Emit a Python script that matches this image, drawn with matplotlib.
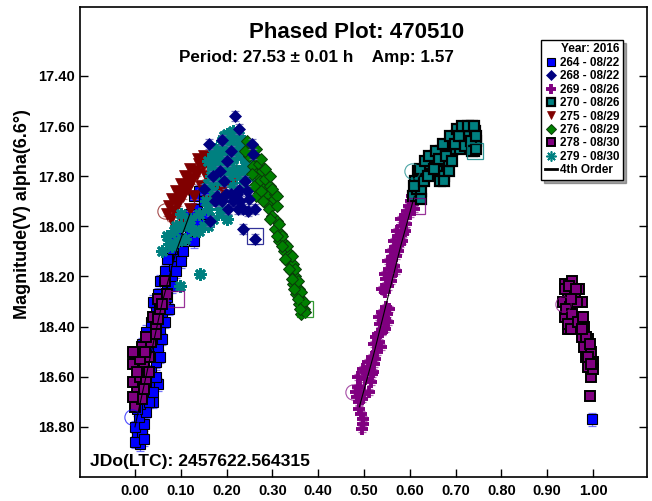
import numpy as np
import matplotlib.pyplot as plt
import matplotlib as mpl

mpl.rcParams['font.family'] = ['Liberation Sans', 'DejaVu Sans']
mpl.rcParams['font.weight'] = 'bold'

# session 264 - 08/22
ph_264 = [0.010, 0.005, 0.015, 0.000, 0.020, 0.008, 0.025, 0.012, 0.040, 0.050, 0.018, 0.030,
          0.010, 0.035, 0.020, 0.045, 0.000, 0.030, 0.050, 0.015, 0.040, 0.025, 0.055, 0.035,
          0.060, 0.045, 0.040, 0.065, 0.050, 0.070, 0.055, 0.080, 0.065, 0.085, 0.070, 0.095,
          0.080, 0.100, 0.090, 0.115, 0.110, 0.125, 0.135, 0.150, 0.140, 0.170,
          0.000, 0.020, 0.005, 0.030, 0.040, 0.045, 0.055, 0.060, 0.065, 0.075, 0.070, 0.080,
          0.090, 0.100, 0.105, 0.120, 0.130, 0.140, 0.155, 0.160, 0.120, 0.130, 0.998]
mag_264 = [18.87, 18.84, 18.82, 18.80, 18.79, 18.76, 18.74, 18.71, 18.70, 18.63, 18.67, 18.64,
           18.60, 18.58, 18.55, 18.54, 18.52, 18.50, 18.48, 18.47, 18.45, 18.42, 18.41, 18.38,
           18.36, 18.34, 18.30, 18.31, 18.27, 18.25, 18.22, 18.21, 18.18, 18.16, 18.13, 18.12,
           18.09, 18.08, 18.04, 18.05, 18.00, 17.98, 17.93, 17.90, 17.86, 17.88,
           18.86, 18.85, 18.73, 18.70, 18.66, 18.60, 18.52, 18.45, 18.38, 18.33, 18.28, 18.24,
           18.18, 18.14, 18.10, 18.02, 18.06, 17.98, 17.95, 17.88, 17.95, 17.88, 18.77]

# session 268 - 08/22
ph_268 = [0.218, 0.227, 0.162, 0.190, 0.255, 0.258, 0.203, 0.164, 0.236, 0.247, 0.262, 0.236,
          0.262, 0.223, 0.199, 0.227, 0.249, 0.170, 0.185, 0.210, 0.200, 0.240, 0.215, 0.230,
          0.150, 0.180, 0.195, 0.175, 0.210, 0.245, 0.225, 0.190]
mag_268 = [17.56, 17.61, 17.67, 17.655, 17.67, 17.71, 17.93, 17.98, 17.93, 17.94, 17.93, 18.01,
           18.05, 17.87, 17.87, 17.855, 17.89, 17.80, 17.78, 17.70, 17.74, 17.82, 17.90, 17.90,
           17.85, 17.88, 17.82, 17.90, 17.87, 17.86, 17.93, 17.90]

# session 269 - 08/26
ph_269 = [0.496, 0.498, 0.490, 0.485, 0.500, 0.492, 0.510, 0.488, 0.503, 0.515, 0.498, 0.512,
          0.523, 0.518, 0.528, 0.522, 0.533, 0.530, 0.540, 0.535, 0.545, 0.540, 0.550, 0.548,
          0.545, 0.552, 0.548, 0.558, 0.555, 0.565, 0.562, 0.570, 0.568, 0.578, 0.575, 0.585,
          0.582, 0.592, 0.590, 0.600, 0.598, 0.608, 0.605, 0.612,
          0.487, 0.495, 0.505, 0.517, 0.482, 0.508, 0.520, 0.525, 0.537, 0.527, 0.545, 0.533,
          0.552, 0.555, 0.540, 0.545, 0.560, 0.552, 0.570, 0.560, 0.575, 0.565, 0.583, 0.572,
          0.590, 0.580, 0.595, 0.602, 0.610, 0.490, 0.493, 0.497]
mag_269 = [18.81, 18.77, 18.73, 18.68, 18.67, 18.64, 18.66, 18.60, 18.61, 18.62, 18.57, 18.56,
           18.55, 18.52, 18.50, 18.47, 18.46, 18.43, 18.42, 18.39, 18.37, 18.34, 18.35, 18.32,
           18.26, 18.24, 18.21, 18.20, 18.17, 18.16, 18.13, 18.12, 18.09, 18.07, 18.04, 18.03,
           18.00, 17.99, 17.96, 17.95, 17.92, 17.91, 17.88, 17.86,
           18.64, 18.69, 18.58, 18.59, 18.66, 18.54, 18.58, 18.53, 18.48, 18.44, 18.41, 18.36,
           18.38, 18.33, 18.25, 18.19, 18.22, 18.14, 18.18, 18.10, 18.10, 18.06, 18.06, 18.02,
           18.02, 17.97, 17.94, 17.90, 17.93, 18.70, 18.75, 18.79]

# session 270 - 08/26
ph_270 = [0.608, 0.615, 0.612, 0.620, 0.625, 0.630, 0.638, 0.645, 0.648, 0.655, 0.660, 0.668,
          0.672, 0.678, 0.685, 0.690, 0.695, 0.700, 0.706, 0.712, 0.718, 0.724, 0.730, 0.736,
          0.742, 0.745, 0.740, 0.725, 0.710, 0.665, 0.675, 0.685, 0.625,
          0.610, 0.617, 0.622, 0.632, 0.640, 0.633, 0.643, 0.652, 0.658, 0.663, 0.672, 0.675,
          0.680, 0.688, 0.692, 0.698, 0.703, 0.708, 0.715, 0.720, 0.728, 0.733, 0.740, 0.745,
          0.735, 0.745]
mag_270 = [17.88, 17.85, 17.82, 17.80, 17.86, 17.78, 17.76, 17.79, 17.74, 17.72, 17.76, 17.70,
           17.74, 17.68, 17.70, 17.66, 17.69, 17.64, 17.67, 17.62, 17.65, 17.61, 17.63, 17.60,
           17.62, 17.66, 17.70, 17.67, 17.69, 17.82, 17.80, 17.78, 17.89,
           17.84, 17.78, 17.77, 17.82, 17.80, 17.74, 17.72, 17.77, 17.70, 17.73, 17.67, 17.82,
           17.72, 17.64, 17.74, 17.67, 17.61, 17.64, 17.60, 17.68, 17.60, 17.66, 17.60, 17.64,
           17.70, 17.69]

# session 275 - 08/29
ph_275 = [0.070, 0.075, 0.085, 0.080, 0.095, 0.090, 0.105, 0.100, 0.115, 0.110, 0.125, 0.120,
          0.135, 0.140, 0.150, 0.160, 0.145, 0.130, 0.165, 0.180, 0.195, 0.205, 0.210, 0.190,
          0.175, 0.120, 0.100, 0.160,
          0.078, 0.088, 0.098, 0.108, 0.118, 0.128, 0.138, 0.148, 0.155, 0.170, 0.185, 0.200,
          0.210]
mag_275 = [17.95, 17.92, 17.94, 17.89, 17.91, 17.86, 17.88, 17.83, 17.85, 17.80, 17.82, 17.77,
           17.79, 17.75, 17.72, 17.74, 17.84, 17.88, 17.78, 17.80, 17.78, 17.80, 17.83, 17.85,
           17.86, 17.93, 17.97, 17.90,
           17.97, 17.90, 17.87, 17.84, 17.81, 17.78, 17.73, 17.76, 17.80, 17.82, 17.77, 17.76,
           17.78]

# session 276 - 08/29
ph_276 = [0.245, 0.255, 0.250, 0.262, 0.258, 0.270, 0.265, 0.278, 0.272, 0.285, 0.280, 0.295,
          0.290, 0.305, 0.300, 0.288, 0.293, 0.300, 0.310, 0.305, 0.318, 0.315, 0.328, 0.325,
          0.338, 0.332, 0.345, 0.340, 0.350, 0.345, 0.358, 0.352, 0.362, 0.358, 0.368, 0.363,
          0.240, 0.260, 0.265, 0.275, 0.280, 0.300, 0.310, 0.295, 0.275, 0.265, 0.285, 0.255,
          0.310,
          0.295, 0.315, 0.322, 0.310, 0.333, 0.320, 0.342, 0.328, 0.350, 0.336, 0.355, 0.342,
          0.362, 0.348, 0.370, 0.355, 0.372, 0.360]
mag_276 = [17.66, 17.68, 17.72, 17.72, 17.76, 17.75, 17.79, 17.78, 17.82, 17.81, 17.85, 17.84,
           17.88, 17.87, 17.90, 17.91, 17.93, 17.96, 17.98, 18.01, 18.03, 18.06, 18.07, 18.10,
           18.11, 18.14, 18.15, 18.18, 18.20, 18.23, 18.25, 18.27, 18.29, 18.31, 18.33, 18.35,
           17.70, 17.84, 17.88, 17.86, 17.90, 17.85, 17.88, 17.80, 17.73, 17.69, 17.77, 17.79,
           17.92,
           17.97, 17.99, 18.04, 18.04, 18.08, 18.08, 18.12, 18.13, 18.17, 18.17, 18.22, 18.21,
           18.26, 18.25, 18.30, 18.29, 18.34, 18.33]

# session 278 - 08/30
ph_278 = [0.000, 0.005, 0.015, -0.005, 0.010, 0.025, -0.005, 0.020, 0.000, 0.030, 0.015, 0.035,
          0.025, 0.045, 0.040, 0.055, 0.050, 0.070, 0.065,
          0.005, 0.020, 0.030, 0.010, 0.022, 0.045, 0.050, 0.060, -0.005, -0.005,
          0.940, 0.955, 0.970, 0.945, 0.960, 0.975, 0.935, 0.950, 0.940, 0.955, 0.945, 0.970,
          0.980, 0.975, 0.990, 0.980, 0.995, 0.985, 1.000, 0.990, 0.995, 0.993,
          0.938, 0.948, 0.962, 0.965, 0.952, 0.942, 0.955, 0.945, 0.952, 0.968, 0.978, 0.985,
          0.975, 0.993, 0.990, 1.000, 0.995]
mag_278 = [18.72, 18.66, 18.69, 18.62, 18.60, 18.62, 18.55, 18.56, 18.50, 18.52, 18.48, 18.46,
           18.44, 18.40, 18.36, 18.33, 18.29, 18.27, 18.22,
           18.58, 18.65, 18.58, 18.53, 18.50, 18.43, 18.37, 18.31, 18.68, 18.50,
           18.23, 18.22, 18.25, 18.27, 18.28, 18.30, 18.30, 18.32, 18.36, 18.38, 18.41, 18.36,
           18.40, 18.44, 18.45, 18.48, 18.50, 18.52, 18.54, 18.56, 18.60, 18.675,
           18.25, 18.24, 18.25, 18.30, 18.29, 18.33, 18.35, 18.39, 18.41, 18.38, 18.36, 18.44,
           18.41, 18.47, 18.52, 18.57, 18.55]

# session 279 - 08/30
ph_279 = [0.200, 0.215, 0.228, 0.190, 0.205, 0.222, 0.238, 0.175, 0.185, 0.200, 0.215, 0.232,
          0.245, 0.160, 0.170, 0.160, 0.180, 0.195, 0.210,
          0.225, 0.240, 0.250, 0.235, 0.220, 0.200, 0.180, 0.160, 0.140, 0.120, 0.100, 0.085,
          0.070, 0.080, 0.060, 0.110, 0.130, 0.150, 0.170, 0.190,
          0.195, 0.210, 0.225, 0.180, 0.165, 0.190, 0.205, 0.215, 0.230, 0.245, 0.155,
          0.170, 0.185, 0.200, 0.100, 0.090, 0.075, 0.095, 0.120, 0.140, 0.160,
          0.170, 0.185, 0.240, 0.255, 0.098, 0.142]
mag_279 = [17.63, 17.62, 17.64, 17.66, 17.67, 17.68, 17.67, 17.69, 17.72, 17.71, 17.73, 17.72,
           17.70, 17.74, 17.77, 17.83, 17.82, 17.75, 17.77,
           17.78, 17.76, 17.80, 17.84, 17.86, 17.88, 17.90, 17.93, 17.95, 17.97, 18.00, 18.02,
           18.04, 18.08, 18.10, 18.05, 18.02, 18.00, 17.97, 17.95,
           17.64, 17.65, 17.70, 17.74, 17.80, 17.79, 17.80, 17.84, 17.80, 17.74, 17.90,
           17.86, 17.93, 17.97, 17.95, 18.00, 18.07, 18.06, 18.00, 18.02, 18.00,
           17.71, 17.69, 17.79, 17.77, 18.24, 18.19]

# typical error per session
err = {'264': 0.025, '268': 0.02, '269': 0.012, '270': 0.01,
       '275': 0.01, '276': 0.008, '278': 0.01, '279': 0.01}

# 4th order fourier fit, only drawn through the covered phases
fit_ph = [0.000, 0.030, 0.060, 0.090, 0.120, np.nan,
          0.490, 0.520, 0.550, 0.580, 0.610]
fit_mag = [18.80, 18.55, 18.30, 18.10, 17.95, np.nan,
           18.72, 18.52, 18.30, 18.08, 17.88]

# first/last observation markers
open_circ_ph = [-0.007, 0.065, 0.476, 0.605, 0.935]
open_circ_mag = [18.76, 17.94, 18.66, 17.78, 18.31]
open_circ_col = ['#0000FF', '#800000', '#800080', '#008080', '#800080']
open_sq_ph = [0.262, 0.372, 0.615, 0.742, 0.090]
open_sq_mag = [18.04, 18.33, 17.92, 17.70, 18.29]
open_sq_col = ['#000080', '#008000', '#800080', '#008080', '#800080']

yticks = [17.40, 17.60, 17.80, 18.00, 18.20, 18.40, 18.60, 18.80]
xticks = [0.0, 0.1, 0.2, 0.3, 0.4, 0.5, 0.6, 0.7, 0.8, 0.9, 1.0]

fig = plt.figure(figsize=(6.52, 5.01), dpi=100)
ax = fig.add_axes([80/652, 24/501, 567/652, 470/501])

styles = {
    '264': dict(marker='s', ms=7.5, mfc='#0000FF', mec='black', mew=0.8, ecolor='#5050FF'),
    '278': dict(marker='s', ms=7.5, mfc='#800080', mec='black', mew=1.4, ecolor='#C080C0'),
    '275': dict(marker='v', ms=8, mfc='#800000', mec='#800000', mew=0.5, ecolor='#B06060'),
    '279': dict(marker=(8, 2, 0), ms=9, mfc='#008080', mec='#008080', mew=2.0, ecolor='#60B0B0'),
    '276': dict(marker='D', ms=6, mfc='#008000', mec='#0A3A0A', mew=0.7, ecolor='#60B060'),
    '268': dict(marker='D', ms=6, mfc='#000080', mec='#000080', mew=0.5, ecolor='#6060B0'),
    '269': dict(marker='+', ms=9, mfc='#800080', mec='#800080', mew=2.8, ecolor='#A040A0'),
    '270': dict(marker='s', ms=7.5, mfc='#008080', mec='black', mew=1.6, ecolor='#60A0A0'),
}
data = {'264': (ph_264, mag_264), '268': (ph_268, mag_268), '269': (ph_269, mag_269),
        '270': (ph_270, mag_270), '275': (ph_275, mag_275), '276': (ph_276, mag_276),
        '278': (ph_278, mag_278), '279': (ph_279, mag_279)}
labels = {'264': '264 - 08/22', '268': '268 - 08/22', '269': '269 - 08/26', '270': '270 - 08/26',
          '275': '275 - 08/29', '276': '276 - 08/29', '278': '278 - 08/30', '279': '279 - 08/30'}

handles = {}
for key in ['264', '278', '275', '279', '276', '268', '269', '270']:
    ph, mag = data[key]
    st = dict(styles[key])
    ecol = st.pop('ecolor')
    ax.errorbar(ph, mag, yerr=err[key], fmt='none', ecolor=ecol, elinewidth=0.9,
                capsize=3, capthick=0.9, alpha=0.8)
    h, = ax.plot(ph, mag, linestyle='none', **st)
    handles[key] = h

fit_line, = ax.plot(fit_ph, fit_mag, color='black', lw=0.8, zorder=3)

for x, y, c in zip(open_circ_ph, open_circ_mag, open_circ_col):
    ax.plot(x, y, marker='o', ms=11, mfc='none', mec=c, mew=0.8, alpha=0.7)
for x, y, c in zip(open_sq_ph, open_sq_mag, open_sq_col):
    ax.plot(x, y, marker='s', ms=11, mfc='none', mec=c, mew=0.9, alpha=0.8)

ax.set_xlim(-0.12, 1.118)
ax.set_ylim(19.0, 17.125)
ax.set_xticks(xticks)
ax.set_xticklabels(['%.2f' % v for v in xticks])
ax.set_yticks(yticks)
ax.set_yticklabels(['%.2f' % v for v in yticks])
ax.tick_params(axis='both', direction='in', length=6, width=1, labelsize=10.5)
ax.tick_params(axis='x', pad=5)
ax.tick_params(axis='y', pad=4, right=True)
for sp in ax.spines.values():
    sp.set_linewidth(1.2)

ax.set_ylabel('Magnitude(V) alpha(6.6°)', fontsize=13, fontweight='bold')
ax.yaxis.set_label_coords(-0.086, 0.56)

ax.text(0.487, 0.945, 'Phased Plot: 470510', transform=ax.transAxes, ha='center',
        va='center', fontsize=16, fontweight='bold')
ax.text(0.417, 0.892, 'Period: 27.53 ± 0.01 h    Amp: 1.57', transform=ax.transAxes,
        ha='center', va='center', fontsize=12.3, fontweight='bold')
ax.text(0.018, 0.034, 'JDo(LTC): 2457622.564315', transform=ax.transAxes, ha='left',
        va='center', fontsize=12.6, fontweight='bold')

order = ['264', '268', '269', '270', '275', '276', '278', '279']
leg = ax.legend([handles[k] for k in order] + [fit_line],
                [labels[k] for k in order] + ['4th Order'],
                loc='upper right', bbox_to_anchor=(0.958, 0.930), borderaxespad=0,
                title='Year: 2016', alignment='right', fontsize=8.5,
                title_fontproperties={'weight': 'bold', 'size': 8.5},
                handlelength=1.0, handletextpad=0.3, labelspacing=0.12, borderpad=0.3,
                markerscale=0.8, fancybox=False, shadow=True, framealpha=1,
                edgecolor='black')
leg.get_frame().set_linewidth(1)
for line in leg.get_lines():
    if line.get_marker() in ('None', None, ''):
        line.set_linewidth(2)
leg.legend_handles[order.index('279')].set_markeredgewidth(1.2)

fig.savefig('out.png', dpi=100)
